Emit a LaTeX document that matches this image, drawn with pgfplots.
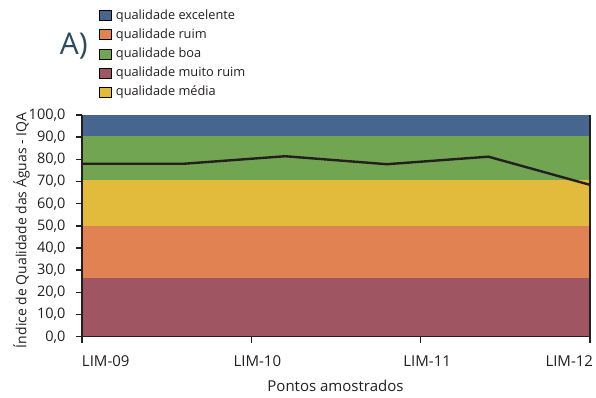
\documentclass[border=0pt]{standalone}
\usepackage{pgfplots}
\pgfplotsset{compat=1.18}
\usepackage{fontspec}
\setmainfont{Open Sans}
\definecolor{cexc}{HTML}{46668F}
\definecolor{cruim}{HTML}{E08252}
\definecolor{cboa}{HTML}{72A552}
\definecolor{cmruim}{HTML}{A05563}
\definecolor{cmed}{HTML}{E2BB3C}
\definecolor{cline}{HTML}{231F20}
\definecolor{ctitle}{HTML}{2E4B5E}
\begin{document}
\begin{tikzpicture}
\begin{axis}[
  name=ax,
  at={(0,0)}, anchor=south west,
  scale only axis,
  width=508pt, height=221.7pt,
  xmin=0, xmax=3, ymin=0, ymax=100,
  axis x line*=bottom, axis y line*=left,
  axis line style={line width=1.6pt, cline},
  xtick={0,1,2,3},
  xticklabels={\makebox[0pt][l]{LIM-09},\hspace*{12pt}LIM-10,\hspace*{13pt}LIM-11,\makebox[0pt][r]{LIM-12\hspace*{-3pt}}},
  ytick={0,10,...,100},
  tick style={line width=1.6pt, cline},
  tick align=outside,
  major tick length=6pt,
  xticklabel style={anchor=base, yshift=-24pt, font=\fontsize{15}{17}\selectfont, text=cline},
  yticklabel style={anchor=east, xshift=-7pt, font=\fontsize{14.5}{16}\selectfont, text=cline},
  /pgf/number format/.cd, fixed, fixed zerofill, precision=1, use comma, assume math mode=true,
  /pgfplots/.cd,
  ylabel={Índice de Qualidade das Águas - IQA},
  ylabel style={at={(rel axis cs:0,0.479)}, anchor=center, yshift=60.5pt, font=\fontsize{14}{16}\selectfont, text=cline},
  xlabel={Pontos amostrados},
  xlabel style={at={(rel axis cs:0.499,0)}, anchor=center, yshift=-49pt, font=\fontsize{15}{17}\selectfont, text=cline},
  legend style={at={(rel axis cs:0.0321,1.491)}, anchor=north west, draw=none, fill=none,
    font=\fontsize{12.8}{14}\selectfont, text=cline, row sep=0.6pt, inner sep=0pt,
    nodes={inner ysep=2.5pt, inner xsep=5pt, text depth=3pt, text height=10.5pt},
    /tikz/every even column/.append style={column sep=0pt}},
  legend cell align=left,
  legend image code/.code={\fill[#1] (0pt,-5pt) rectangle (12pt,5pt);},
  clip=false,
]
\addplot[fill=cexc, draw=none, forget plot] coordinates {(0,100) (3,100)} \closedcycle;
\addplot[fill=cboa, draw=none, forget plot] coordinates {(0,90.7) (3,90.7)} \closedcycle;
\addplot[fill=cmed, draw=none, forget plot] coordinates {(0,70.6) (3,70.6)} \closedcycle;
\addplot[fill=cruim, draw=none, forget plot] coordinates {(0,50) (3,50)} \closedcycle;
\addplot[fill=cmruim, draw=none, forget plot] coordinates {(0,26.7) (3,26.7)} \closedcycle;
\addplot[line width=2.4pt, color=cline, forget plot] coordinates {
  (0,78.0) (0.6,78.0) (1.2,81.4) (1.8,77.8) (2.4,81.2) (3.0,68.5)};
\draw[line width=1.6pt, cline] (rel axis cs:1,0) -- (rel axis cs:1,1);
\draw[line width=1.6pt, cline] (rel axis cs:0,0) -- (rel axis cs:1,0);
\draw[line width=1.6pt, cline] (rel axis cs:0,0) -- (rel axis cs:0,1);
\addlegendimage{fill=cexc}\addlegendentry{qualidade excelente}
\addlegendimage{fill=cruim}\addlegendentry{qualidade ruim}
\addlegendimage{fill=cboa}\addlegendentry{qualidade boa}
\addlegendimage{fill=cmruim}\addlegendentry{qualidade muito ruim}
\addlegendimage{fill=cmed}\addlegendentry{qualidade média}
\node[text=ctitle, font=\fontsize{30}{32}\selectfont, anchor=center] at (rel axis cs:-0.016,1.31) {A)};
\end{axis}
\pgfresetboundingbox
\path (-82pt,-61.3pt) rectangle (514pt,336.7pt);
\end{tikzpicture}
\end{document}
